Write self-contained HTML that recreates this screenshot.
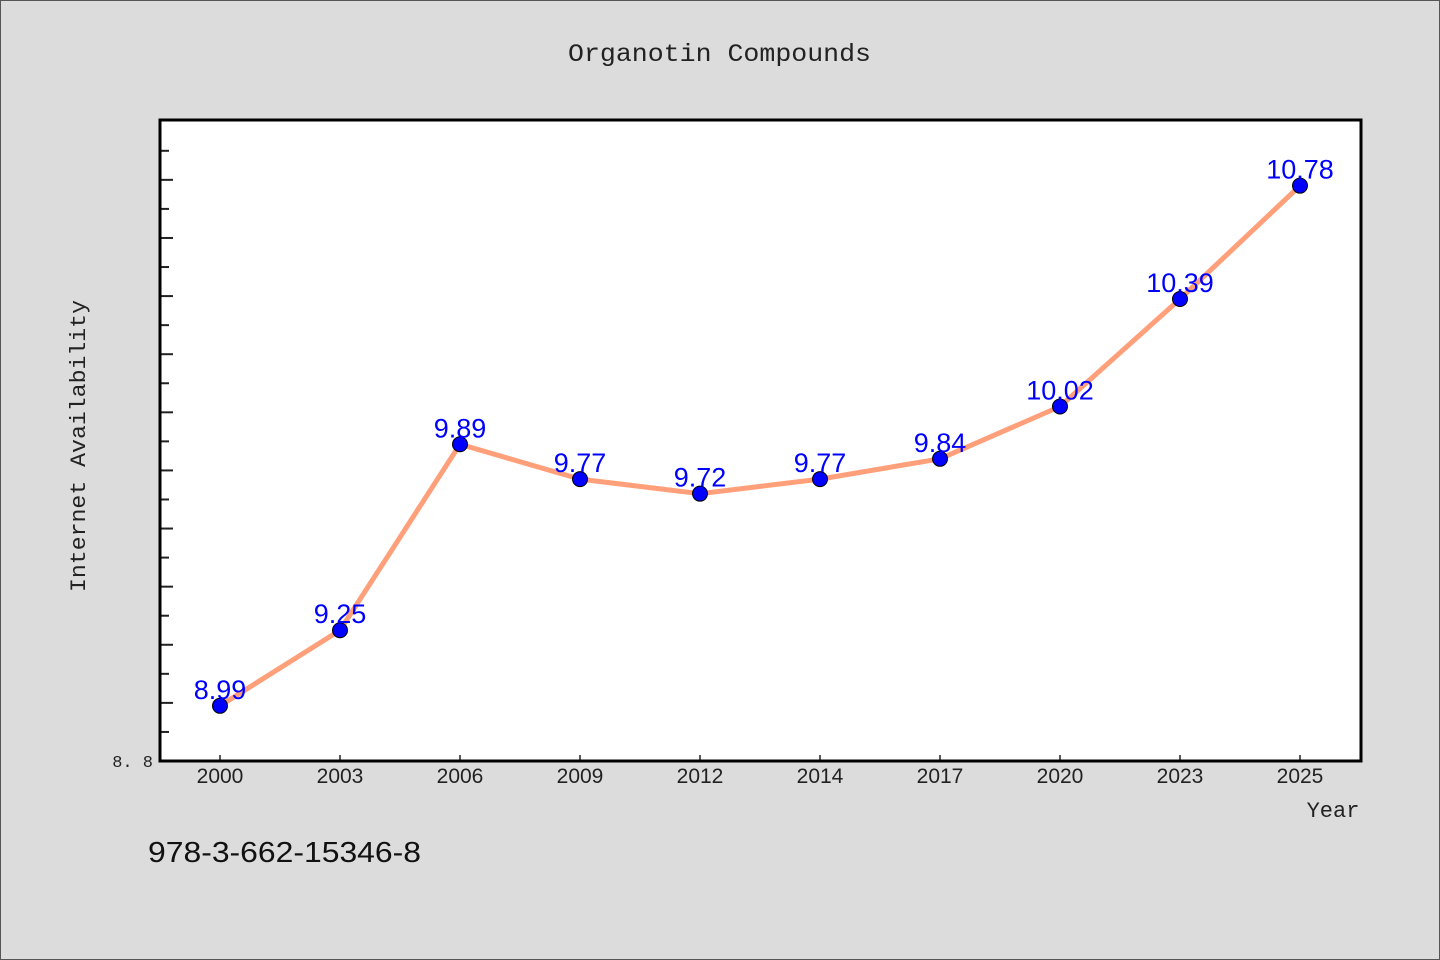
<!DOCTYPE html>
<html><head><meta charset="utf-8"><style>
body{margin:0;background:#dcdcdc;}
svg{display:block;font-family:"Liberation Mono","Noto Sans CJK SC",monospace;}
</style></head><body>
<svg id="chart" width="1440" height="960">
<rect x="0.5" y="0.5" width="1439" height="959" fill="#dcdcdc" stroke="#555"/>
<text x="568" y="61" font-size="25" textLength="303" lengthAdjust="spacingAndGlyphs" fill="#222">Organotin Compounds</text>
<rect x="160" y="120" width="1201" height="641" fill="#fff"/>
<g id="ticks"></g>
<g id="series"></g>
<rect x="160" y="120" width="1201" height="641" fill="none" stroke="#000" stroke-width="3"/>
<text x="1333" y="817" font-size="22" text-anchor="middle" fill="#222">Year</text>
<text transform="translate(85,592) rotate(-90)" font-size="22" textLength="292" lengthAdjust="spacingAndGlyphs" fill="#222">Internet Availability</text>
<text x="148" y="862" font-size="29" textLength="273" lengthAdjust="spacingAndGlyphs" fill="#111" font-family="Liberation Sans, sans-serif">978-3-662-15346-8</text>
</svg>
<script>
const categories=["2000","2003","2006","2009","2012","2014","2017","2020","2023","2025"];
const values=[8.99,9.25,9.89,9.77,9.72,9.77,9.84,10.02,10.39,10.78];
const yTickLabels=["8.8"];
const NS="http://www.w3.org/2000/svg";
const yMin=8.8,yMax=11.006,yTop=120,yBot=761,x0=220,step=120;
const yS=v=>yBot-(v-yMin)/(yMax-yMin)*(yBot-yTop);
const xS=i=>x0+i*step;
function mk(t,a,p){const e=document.createElementNS(NS,t);for(const k in a)e.setAttribute(k,a[k]);p.appendChild(e);return e;}
const tg=document.getElementById('ticks');
for(let k=1;k<=22;k++){const v=yMin+k*0.1;const y=yS(v);if(y<yTop+2)break;
const t=mk('line',{x1:160,x2:k%2==0?173:169,y1:y,y2:y,stroke:'#222','stroke-width':2},tg);

}
yTickLabels.forEach(l=>{const t=mk('text',{x:153,y:yS(+l)+6,'font-size':17,'text-anchor':'end',fill:'#222'},tg);t.textContent=l.replace('.','. ');

});
categories.forEach((c,i)=>{const l=mk('line',{x1:xS(i),x2:xS(i),y1:yBot,y2:yBot-6,stroke:'#222','stroke-width':1.5},tg);


const t=mk('text',{x:xS(i),y:783,'font-size':21,'text-anchor':'middle',fill:'#222','font-family':'Liberation Sans, sans-serif'},tg);t.textContent=c;

});
const sg=document.getElementById('series');
const pl=mk('polyline',{points:values.map((v,i)=>xS(i)+','+yS(v)).join(' '),fill:'none',stroke:'#ffa07a','stroke-width':5,'stroke-linejoin':'round'},sg);


values.forEach((v,i)=>{const c=mk('circle',{cx:xS(i),cy:yS(v),r:7.5,fill:'#0000ff',stroke:'#000','stroke-width':1},sg);


const t=mk('text',{x:xS(i),y:yS(v)-7,'font-size':27,'text-anchor':'middle',fill:'#0000ff','font-family':'Liberation Sans, sans-serif'},sg);t.textContent=v.toFixed(2);

});
</script>
</body></html>
